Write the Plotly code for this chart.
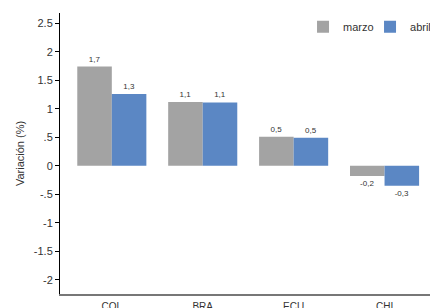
import plotly.graph_objects as go

categories = ["COL", "BRA", "ECU", "CHI"]
marzo = [1.74, 1.12, 0.51, -0.18]
abril = [1.26, 1.11, 0.49, -0.35]
marzo_labels = ["1,7", "1,1", "0,5", "-0,2"]
abril_labels = ["1,3", "1,1", "0,5", "-0,3"]
y_tickvals = [2.5, 2, 1.5, 1, 0.5, 0, -0.5, -1, -1.5, -2]
y_ticktext = ["2.5", "2", "1.5", "1", ".5", "0", "-.5", "-1", "-1.5", "-2"]

GRAY = "#A3A3A3"
BLUE = "#5B87C4"

fig = go.Figure()
fig.add_trace(go.Bar(x=categories, y=marzo, name="marzo", marker_color=GRAY,
                     marker_line_width=0,
                     text=marzo_labels, textposition="outside",
                     textfont=dict(size=8, color="#333333"), cliponaxis=False))
fig.add_trace(go.Bar(x=categories, y=abril, name="abril", marker_color=BLUE,
                     marker_line_width=0,
                     text=abril_labels, textposition="outside",
                     textfont=dict(size=8, color="#333333"), cliponaxis=False))

fig.update_layout(
    width=430, height=308,
    margin=dict(l=60, r=0, t=13, b=14, autoexpand=False),
    paper_bgcolor="white", plot_bgcolor="white",
    font=dict(family="Liberation Sans, Arial, sans-serif", size=11, color="#333333"),
    barmode="group", bargap=0.24, bargroupgap=0,
    showlegend=True,
    legend=dict(orientation="h", x=1.019, y=1.003, xanchor="right", yanchor="top",
                font=dict(size=11, color="#333333"), bgcolor="rgba(0,0,0,0)",
                itemwidth=30, entrywidth=22, entrywidthmode="pixels"),
)
fig.update_xaxes(range=[-0.57, 3.5], showline=True, linecolor="#777777", linewidth=1.5,
                 ticks="", showgrid=False, zeroline=False, automargin=False,
                 ticklabelstandoff=2,
                 tickfont=dict(size=10, color="#333333"))
fig.update_yaxes(range=[-2.25, 2.68], tickvals=y_tickvals, ticktext=y_ticktext,
                 showline=True, linecolor="black", linewidth=1,
                 ticks="outside", ticklen=4, tickcolor="black",
                 showgrid=False, zeroline=False, automargin=False,
                 title=dict(text="Variación (%)", standoff=6, font=dict(size=11)),
                 tickfont=dict(size=11, color="#333333"))

fig.write_html("out.html", config={"displayModeBar": False},
               post_script="document.body.style.margin='0px';")
